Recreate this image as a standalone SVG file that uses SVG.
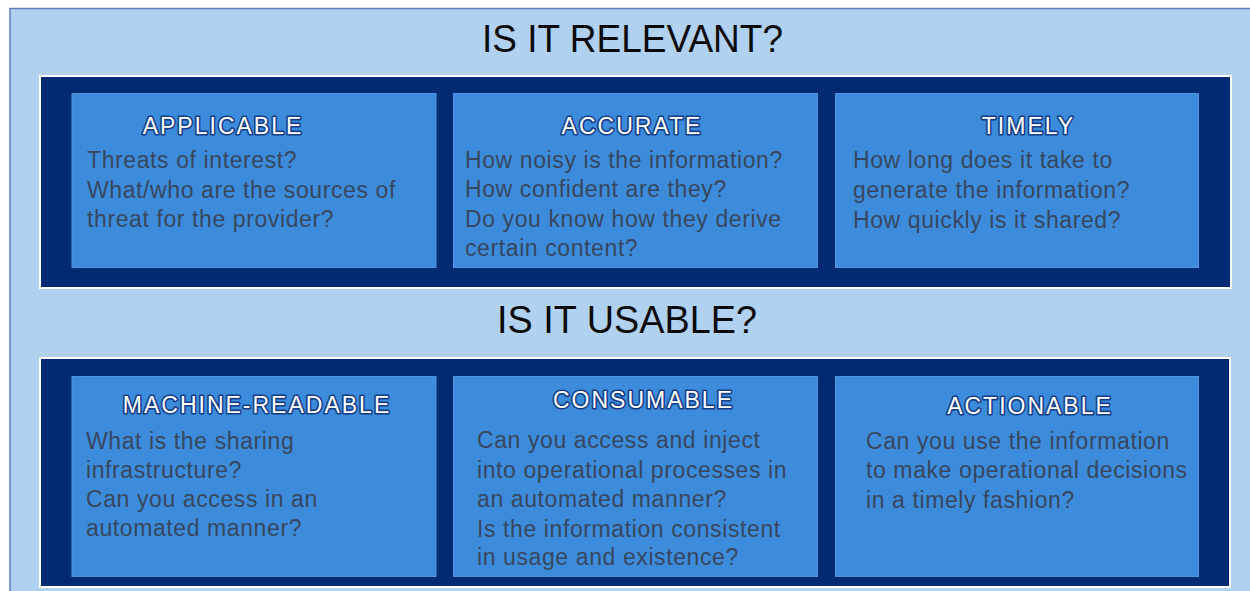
<svg xmlns="http://www.w3.org/2000/svg" width="1250" height="591" viewBox="0 0 1250 591">
<style>
.bg{fill:#b0d2f0;stroke:#5f80bc;stroke-width:1.5}
.panel{fill:#002b73;stroke:#ffffff;stroke-width:2}
.box{fill:#3d8cdc;stroke:#4a95dd;stroke-width:1}
.title{font-family:"Liberation Sans",Arial,sans-serif;font-size:38px;fill:#0a0a0a;text-anchor:middle}
.head{font-family:"Liberation Sans",Arial,sans-serif;font-size:23px;fill:#ffffff;stroke:#163c86;stroke-width:3.2;paint-order:stroke;stroke-linejoin:round;letter-spacing:2px;text-anchor:middle}
.body{font-family:"Liberation Sans",Arial,sans-serif;font-size:23px;letter-spacing:0.6px;fill:#38475f}
</style>
<rect class="bg" x="10" y="8.5" width="1250" height="600"/>
<text class="title" x="632.5" y="52" textLength="301" lengthAdjust="spacingAndGlyphs">IS IT RELEVANT?</text>
<text class="title" x="627" y="333" textLength="260" lengthAdjust="spacingAndGlyphs">IS IT USABLE?</text>
<g id="panel-relevant"><rect class="panel" x="40" y="76" width="1191" height="212"/></g>
<g id="panel-usable"><rect class="panel" x="40" y="358" width="1190" height="229"/></g>
<g id="applicable">
<rect class="box" x="72" y="93.5" width="364" height="174"/>
<text class="head" x="223" y="134">APPLICABLE</text>
<text class="body"><tspan x="87" y="168">Threats of interest?</tspan><tspan x="87" y="198">What/who are the sources of</tspan><tspan x="87" y="227">threat for the provider?</tspan></text>
</g>
<g id="accurate">
<rect class="box" x="453.5" y="93.5" width="364" height="174"/>
<text class="head" x="632" y="134">ACCURATE</text>
<text class="body"><tspan x="465" y="168">How noisy is the information?</tspan><tspan x="465" y="197">How confident are they?</tspan><tspan x="465" y="227">Do you know how they derive</tspan><tspan x="465" y="256">certain content?</tspan></text>
</g>
<g id="timely">
<rect class="box" x="835.5" y="93.5" width="363" height="174"/>
<text class="head" x="1028.5" y="134">TIMELY</text>
<text class="body"><tspan x="853" y="168">How long does it take to</tspan><tspan x="853" y="198">generate the information?</tspan><tspan x="853" y="228">How quickly is it shared?</tspan></text>
</g>
<g id="machine-readable">
<rect class="box" x="72" y="376.5" width="364" height="200"/>
<text class="head" x="257" y="413">MACHINE-READABLE</text>
<text class="body"><tspan x="86" y="449">What is the sharing</tspan><tspan x="86" y="478">infrastructure?</tspan><tspan x="86" y="507">Can you access in an</tspan><tspan x="86" y="536">automated manner?</tspan></text>
</g>
<g id="consumable">
<rect class="box" x="453.5" y="376.5" width="364" height="200"/>
<text class="head" x="643.5" y="408">CONSUMABLE</text>
<text class="body"><tspan x="477" y="448">Can you access and inject</tspan><tspan x="477" y="478">into operational processes in</tspan><tspan x="477" y="507">an automated manner?</tspan><tspan x="477" y="537">Is the information consistent</tspan><tspan x="477" y="565">in usage and existence?</tspan></text>
</g>
<g id="actionable">
<rect class="box" x="835.5" y="376.5" width="363" height="200"/>
<text class="head" x="1030" y="414">ACTIONABLE</text>
<text class="body"><tspan x="866" y="449">Can you use the information</tspan><tspan x="866" y="478">to make operational decisions</tspan><tspan x="866" y="508">in a timely fashion?</tspan></text>
</g>
<g id="connectors"></g>
</svg>
